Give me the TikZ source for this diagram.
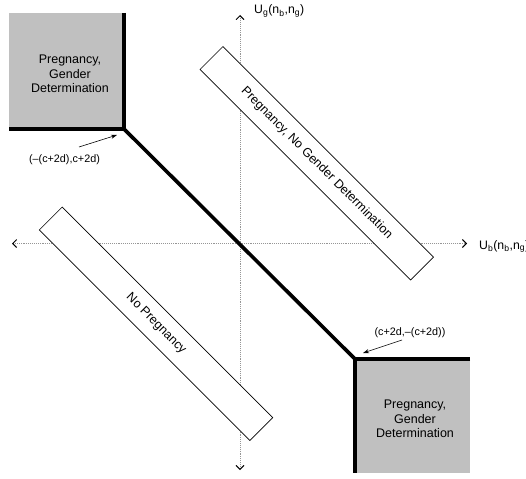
\documentclass[tikz,border=0pt]{standalone}
\usepackage{fontspec}
\setmainfont{Liberation Sans}
\usetikzlibrary{arrows.meta}
\definecolor{boxgray}{RGB}{192,192,192}
\definecolor{axisgray}{RGB}{150,150,150}
\begin{document}
\begin{tikzpicture}[x=1pt,y=-1pt,
  axis/.style={draw=axisgray,densely dotted,line width=0.9pt,
    -{Straight Barb[length=4pt,width=8pt,line width=0.9pt,color=black]}},
  frontier/.style={line width=3.6pt,line cap=butt,line join=miter},
  region/.style={draw=black,line width=0.7pt,fill=white,rotate=-45,
    minimum width=297.7pt,minimum height=32.5pt,inner sep=0pt,
    font=\fontsize{12.5}{14}\selectfont},
  boxtext/.style={align=center,font=\fontsize{12.5}{14.5}\selectfont},
  pointlabel/.style={font=\fontsize{10.8}{13}\selectfont,inner sep=1pt},
  axislabel/.style={font=\fontsize{12.3}{14}\selectfont,inner sep=0pt},
  pointer/.style={-{Stealth[length=6pt,width=4pt]},line width=0.6pt}]
\useasboundingbox (0,0) rectangle (526,478);
% gray regions
\fill[boxgray] (9,13) rectangle (124,129);
\fill[boxgray] (355,359) rectangle (470,473);
% axes
\coordinate (O) at (240,243.5);
\coordinate (xl) at (12,243.5);
\coordinate (xr) at (467,243.5);
\coordinate (yt) at (240,15);
\coordinate (yb) at (240,470);
\draw[axis] (O) -- (xr);
\draw[axis] (O) -- (xl);
\draw[axis] (O) -- (yt);
\draw[axis] (O) -- (yb);
% region boxes
\node[region] (pngd) at (316.75,163.25) {Pregnancy, No Gender Determination};
\node[region] (np) at (156,323.75) {No Pregnancy};
% frontier
\coordinate (c1) at (124,129);
\coordinate (c2) at (355,359);
\coordinate (c1t) at (124,13);
\coordinate (c1l) at (9,129);
\coordinate (c2r) at (470,359);
\coordinate (c2b) at (355,473);
\draw[frontier] (c1t) -- (c1) -- (c1l);
\draw[frontier] (c1) -- (c2);
\draw[frontier] (c2r) -- (c2) -- (c2b);
% gray box texts
\node[boxtext] (gdul) at (70,74) {Pregnancy,\\Gender\\Determination};
\node[boxtext] (gdlr) at (415,419) {Pregnancy,\\Gender\\Determination};
% point labels
\node[pointlabel] (l1) at (64.5,159.5) {(–(c+2d),c+2d)};
\node[pointlabel] (l2) at (410,333) {(c+2d,–(c+2d))};
\coordinate (s1) at (79,147);
\coordinate (t1) at (117,135);
\coordinate (s2) at (402,340);
\coordinate (t2) at (363,353);
\draw[pointer] (s1) -- (t1);
\draw[pointer] (s2) -- (t2);
% axis labels
\node[axislabel,anchor=base west] (ub) at (479,249) {U\textsubscript{b}(n\textsubscript{b},n\textsubscript{g})};
\node[axislabel,anchor=base west] (ug) at (254,14) {U\textsubscript{g}(n\textsubscript{b},n\textsubscript{g})};
\end{tikzpicture}
\end{document}
